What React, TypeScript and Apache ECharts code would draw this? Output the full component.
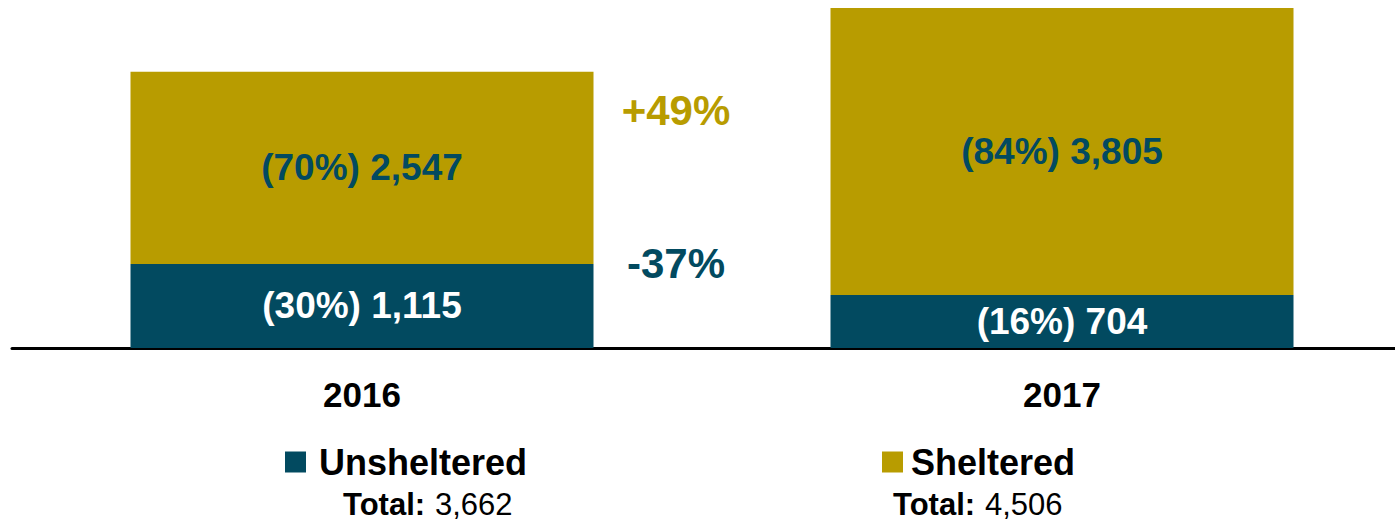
import React, { useEffect, useRef } from "react";
import * as echarts from "echarts";

const categories = ["2016", "2017"];
const unsheltered = [1115, 704];
const sheltered = [2547, 3805];
const totals = [3662, 4506];
const changeLabels = ["+49%", "-37%"];

const GOLD = "#b89c00";
const TEAL = "#024a60";
const FONT = "Liberation Sans, Arial, sans-serif";

const fmt = (v: number) => v.toLocaleString("en-US");

export default function App() {
  const ref = useRef<HTMLDivElement>(null);
  useEffect(() => {
    if (!ref.current) return;
    const chart = echarts.init(ref.current, null, { renderer: "svg" });
    const stackTotal = categories.map((_, i) => unsheltered[i] + sheltered[i]);
    const pct = (v: number, i: number) => Math.round((v / stackTotal[i]) * 100);
    const legendBase = {
      orient: "horizontal",
      itemWidth: 21,
      itemHeight: 21,
      icon: "rect",
      padding: 0,
      selectedMode: false,
      top: 444,
    };
    const totalLabelX = [343, 893];
    const totalValueX = [435, 985];
    chart.setOption({
      animation: false,
      backgroundColor: "#ffffff",
      grid: { left: 12, right: 0, top: 8, bottom: 172 },
      xAxis: {
        type: "category",
        data: categories,
        axisLine: { lineStyle: { color: "#000", width: 3 } },
        axisTick: { show: false },
        axisLabel: {
          color: "#000",
          fontFamily: FONT,
          fontWeight: "bold",
          fontSize: 35,
          margin: 29,
        },
      },
      yAxis: { type: "value", min: 0, max: Math.max(...stackTotal), show: false },
      legend: [
        {
          ...legendBase,
          left: 285,
          data: ["Unsheltered"],
          textStyle: {
            color: "#000",
            fontFamily: FONT,
            fontWeight: "bold",
            fontSize: 36,
            padding: [0, 0, 0, 8],
          },
        },
        {
          ...legendBase,
          left: 882,
          data: ["Sheltered"],
          textStyle: {
            color: "#000",
            fontFamily: FONT,
            fontWeight: "bold",
            fontSize: 36,
            padding: [0, 0, 0, 3],
          },
        },
      ],
      series: [
        {
          name: "Unsheltered",
          type: "bar",
          stack: "total",
          barWidth: 463,
          data: unsheltered,
          itemStyle: { color: TEAL },
          label: {
            show: true,
            position: "inside",
            color: "#fff",
            fontFamily: FONT,
            fontWeight: "bold",
            fontSize: 37,
            formatter: (p: any) => `(${pct(p.value, p.dataIndex)}%) ${fmt(p.value)}`,
          },
        },
        {
          name: "Sheltered",
          type: "bar",
          stack: "total",
          barWidth: 463,
          data: sheltered,
          itemStyle: { color: GOLD },
          label: {
            show: true,
            position: "inside",
            color: TEAL,
            fontFamily: FONT,
            fontWeight: "bold",
            fontSize: 37,
            formatter: (p: any) => `(${pct(p.value, p.dataIndex)}%) ${fmt(p.value)}`,
          },
        },
      ],
      graphic: [
        {
          type: "text",
          x: 676,
          y: 110,
          style: {
            text: changeLabels[0],
            fill: GOLD,
            font: `bold 42px ${FONT}`,
            align: "center",
            verticalAlign: "middle",
          },
        },
        {
          type: "text",
          x: 676,
          y: 263,
          style: {
            text: changeLabels[1],
            fill: TEAL,
            font: `bold 42px ${FONT}`,
            align: "center",
            verticalAlign: "middle",
          },
        },
        ...totals.map((_, i) => ({
          type: "text",
          x: totalLabelX[i],
          y: 504,
          style: {
            text: "Total:",
            fill: "#000",
            font: `bold 31px ${FONT}`,
            lineHeight: 30,
            align: "left",
            verticalAlign: "middle",
          },
        })),
        ...totals.map((t, i) => ({
          type: "text",
          x: totalValueX[i],
          y: 504,
          style: {
            text: fmt(t),
            fill: "#000",
            font: `normal 31px ${FONT}`,
            lineHeight: 30,
            align: "left",
            verticalAlign: "middle",
          },
        })),
      ],
    });
    return () => chart.dispose();
  }, []);
  return (
    <div
      style={{
        position: "fixed",
        left: 0,
        top: 0,
        width: 1395,
        height: 520,
        overflow: "hidden",
        background: "#fff",
      }}
    >
      <div ref={ref} style={{ width: 1412, height: 520 }} />
    </div>
  );
}
